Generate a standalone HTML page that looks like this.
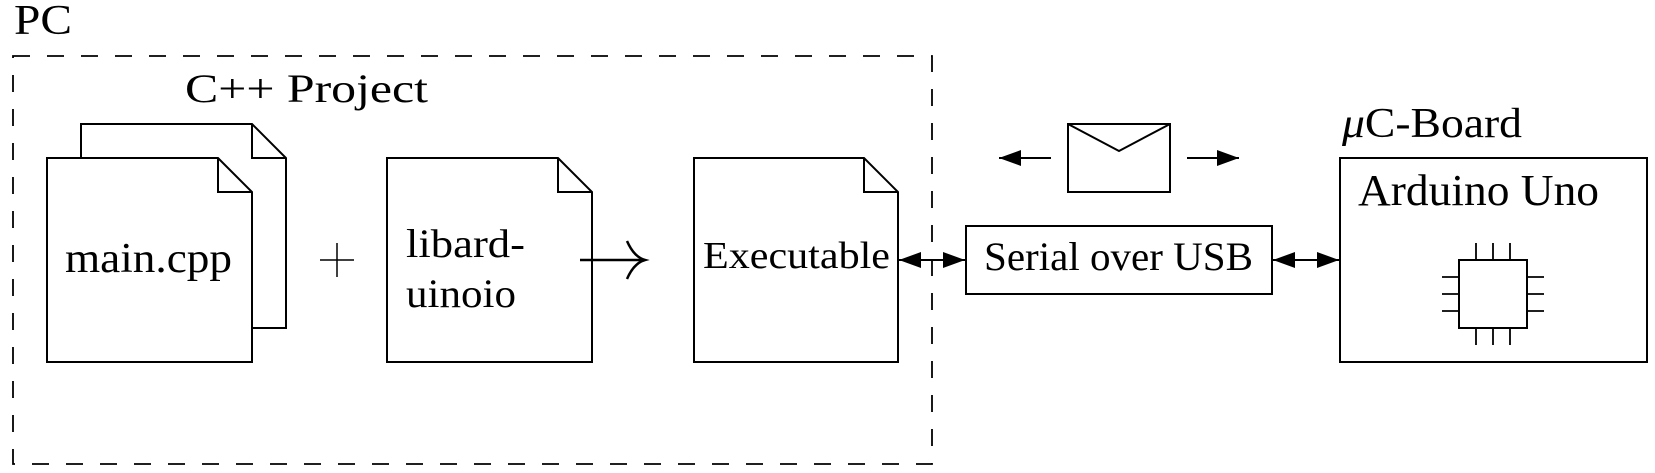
<!DOCTYPE html>
<html><head><meta charset="utf-8"><style>html,body{margin:0;padding:0;background:#fff}svg{display:block}text{font-family:"Liberation Serif",serif;fill:#000}</style></head>
<body>
<svg width="1655" height="473" viewBox="0 0 1655 473" xmlns="http://www.w3.org/2000/svg">
<defs>
<marker id="ah" viewBox="0 0 10 10" refX="10" refY="5" markerWidth="22" markerHeight="16" markerUnits="userSpaceOnUse" orient="auto-start-reverse" preserveAspectRatio="none"><path d="M0,0 L10,5 L0,10 z" fill="#000"/></marker>
</defs>
<g fill="none" stroke="#000" stroke-width="2">
<rect x="13" y="56" width="919" height="408" stroke-dasharray="17,17" stroke-width="1.8"/>
<path d="M81,158 V124 H252 L286,158 V328 H252 M252,124 V158 H286" fill="#fff"/>
<path d="M47,158 H218 L252,192 V362 H47 Z" fill="#fff"/>
<path d="M218,158 V192 H252"/>
<path d="M387,158 H558 L592,192 V362 H387 Z" fill="#fff"/>
<path d="M558,158 V192 H592"/>
<path d="M694,158 H864 L898,192 V362 H694 Z" fill="#fff"/>
<path d="M864,158 V192 H898"/>
<line x1="580" y1="260" x2="644" y2="260" stroke-width="2.5"/>
<path d="M627,241 Q634,257 645,260 Q634,263 627,279" stroke-width="2.5"/>
<line x1="320" y1="260" x2="354" y2="260" stroke-width="1.5"/>
<line x1="337" y1="243" x2="337" y2="277" stroke-width="1.5"/>
<rect x="966" y="226" width="306" height="68"/>
<line x1="899" y1="260" x2="965" y2="260" marker-start="url(#ah)" marker-end="url(#ah)"/>
<line x1="1273" y1="260" x2="1339" y2="260" marker-start="url(#ah)" marker-end="url(#ah)"/>
<rect x="1068" y="124" width="102" height="68"/>
<path d="M1068,124 L1119,151 L1170,124"/>
<line x1="1051" y1="158" x2="999" y2="158" marker-end="url(#ah)"/>
<line x1="1187" y1="158" x2="1239" y2="158" marker-end="url(#ah)"/>
<rect x="1340" y="158" width="307" height="204"/>
<rect x="1459" y="260" width="68" height="68"/>
<path d="M1476,243V260M1493,243V260M1510,243V260M1476,328V345M1493,328V345M1510,328V345M1442,277H1459M1442,294H1459M1442,311H1459M1527,277H1544M1527,294H1544M1527,311H1544" stroke-width="1.8"/>
</g>
<text x="14" y="34" font-size="42" textLength="58" lengthAdjust="spacingAndGlyphs">PC</text>
<text x="185" y="102" font-size="40" textLength="243" lengthAdjust="spacingAndGlyphs">C++ Project</text>
<text x="65" y="272" font-size="42" textLength="167" lengthAdjust="spacingAndGlyphs">main.cpp</text>
<text x="406" y="257" font-size="40" textLength="119" lengthAdjust="spacingAndGlyphs">libard-</text>
<text x="406" y="307" font-size="40" textLength="110" lengthAdjust="spacingAndGlyphs">uinoio</text>
<text x="703" y="268" font-size="38" textLength="187" lengthAdjust="spacingAndGlyphs">Executable</text>
<text x="984" y="270" font-size="40" textLength="269" lengthAdjust="spacingAndGlyphs">Serial over USB</text>
<text x="1342" y="137" font-size="42" textLength="180" lengthAdjust="spacingAndGlyphs"><tspan font-style="italic">μ</tspan>C-Board</text>
<text x="1358" y="205" font-size="44" textLength="241" lengthAdjust="spacingAndGlyphs">Arduino Uno</text>
</svg>
</body></html>
